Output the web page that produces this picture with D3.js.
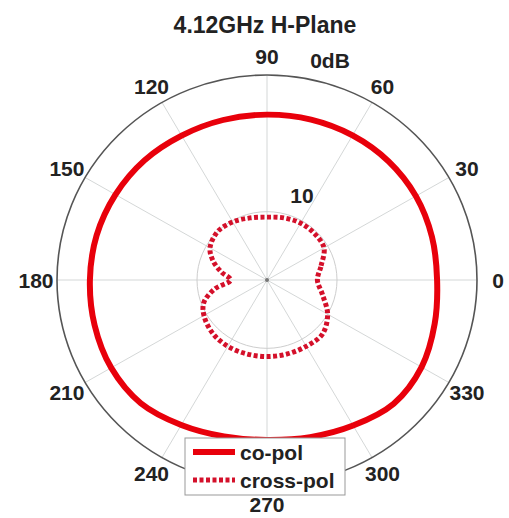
<!DOCTYPE html>
<html><head><meta charset="utf-8">
<script src="https://cdn.jsdelivr.net/npm/d3@7"></script>
<style>body{margin:0;background:#fff}svg{display:block}</style>
</head><body>
<svg id="c" width="509" height="518"></svg>
<script>
const title = "4.12GHz H-Plane";
const angleTicks = [0,30,60,90,120,150,180,210,240,270,300,330];
const ringValues = [-10, 0];
const ringLabels = ["10", "0dB"];
const seriesNames = ["co-pol", "cross-pol"];
const coAngles = [0,15,30,45,60,75,90,105,120,135,150,165,180,195,210,225,240,255,270,285,300,315,330,345];
const coPol =    [-2.85,-2.8,-2.72,-2.72,-2.78,-2.85,-2.9,-2.88,-2.8,-2.62,-2.5,-2.4,-2.35,-2.25,-2.15,-2.25,-2.75,-3.15,-3.3,-3.1,-2.7,-2.2,-2.25,-2.6];
const xAngles = [0,15,30,45,60,75,90,105,120,135,150,160,170,180,190,200,210,225,240,255,270,285,300,315,330,345];
const crossPol = [-11.4,-11.0,-10.3,-10.2,-10.2,-10.3,-10.4,-10.3,-10.1,-10.0,-10.3,-10.9,-11.7,-12.4,-11.2,-10.2,-9.8,-9.5,-9.4,-9.4,-9.4,-9.4,-9.4,-9.4,-10.0,-10.9];

const svg = d3.select("#c");
const cx = 267, cy = 280, R = 210, yS = 205/210;
const r = d3.scaleLinear().domain([-15, 0]).range([0, R]);
const toRad = d => d * Math.PI / 180;

const g = svg.append("g").attr("transform", `translate(${cx},${cy}) scale(1,${yS})`);

// spokes
g.selectAll("line.spoke").data(angleTicks.filter(a => a < 180)).join("line")
  .attr("x1", a => -R * Math.cos(toRad(a))).attr("y1", a => R * Math.sin(toRad(a)))
  .attr("x2", a => R * Math.cos(toRad(a))).attr("y2", a => -R * Math.sin(toRad(a)))
  .attr("stroke", "#d3d6d6").attr("stroke-width", 1);

// inner ring
g.append("circle").attr("r", r(ringValues[0])).attr("fill", "none")
  .attr("stroke", "#cccccc").attr("stroke-width", 1);
// outer ring
g.append("circle").attr("r", r(ringValues[1])).attr("fill", "none")
  .attr("stroke", "#555").attr("stroke-width", 1.6);
g.append("circle").attr("r", 2).attr("fill", "#777");

const line = d3.lineRadial().curve(d3.curveCatmullRomClosed.alpha(0.5))
  .angle(d => Math.PI/2 - toRad(d[0])).radius(d => r(d[1]));

g.append("path").datum(coAngles.map((a,i) => [a, coPol[i]]))
  .attr("d", line).attr("fill", "none").attr("stroke", "#e8000b").attr("stroke-width", 6);
g.append("path").datum(xAngles.map((a,i) => [a, crossPol[i]]))
  .attr("d", line).attr("fill", "none").attr("stroke", "#d4102a").attr("stroke-width", 5)
  .attr("stroke-dasharray", "4 2.5");

// angle labels
const font = "'Liberation Sans', Arial, sans-serif";
svg.selectAll("text.ang").data(angleTicks).join("text")
  .attr("x", a => cx + 231 * Math.cos(toRad(a)))
  .attr("y", a => cy - 224 * Math.sin(toRad(a)))
  .attr("text-anchor", "middle").attr("dominant-baseline", "central")
  .attr("font-family", font).attr("font-weight", "bold").attr("font-size", 21)
  .attr("fill", "#222").text(a => a);

// ring labels
const ringLabelPos = [[302, 195], [330, 60]];
svg.selectAll("text.rl").data(ringLabels).join("text")
  .attr("x", (d,i) => ringLabelPos[i][0]).attr("y", (d,i) => ringLabelPos[i][1])
  .attr("text-anchor", "middle").attr("dominant-baseline", "central")
  .attr("font-family", font).attr("font-weight", "bold").attr("font-size", 21)
  .attr("fill", "#222").text(d => d);

// title
svg.append("text").attr("x", 265).attr("y", 25)
  .attr("text-anchor", "middle").attr("dominant-baseline", "central")
  .attr("font-family", font).attr("font-weight", "bold").attr("font-size", 23)
  .attr("fill", "#222").text(title);

// legend
const lg = svg.append("g").attr("transform", "translate(185,438)");
lg.append("rect").attr("width", 160).attr("height", 57).attr("fill", "#fff")
  .attr("stroke", "#999").attr("stroke-width", 1);
const styles = [{c:"#e8000b", w:6, dash:null}, {c:"#d4102a", w:5, dash:"4 2.5"}];
seriesNames.forEach((n, i) => {
  const y = 14 + i * 28;
  lg.append("line").attr("x1", 8).attr("x2", 50).attr("y1", y).attr("y2", y)
    .attr("stroke", styles[i].c).attr("stroke-width", styles[i].w)
    .attr("stroke-dasharray", styles[i].dash);
  lg.append("text").attr("x", 55).attr("y", y).attr("dominant-baseline", "central")
    .attr("font-family", font).attr("font-weight", "bold").attr("font-size", 21)
    .attr("fill", "#222").text(n);
});
</script>
</body></html>
